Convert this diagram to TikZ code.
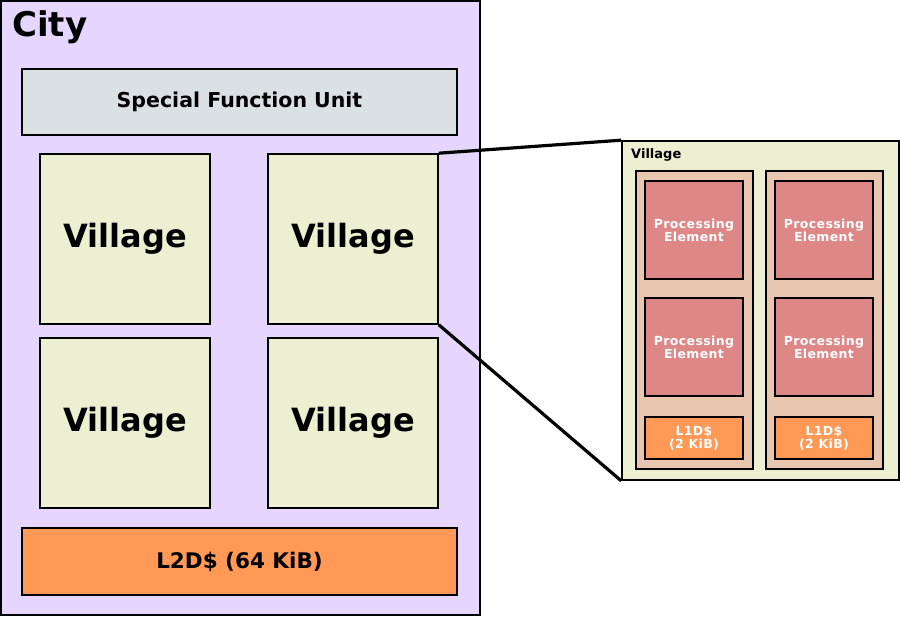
\documentclass[tikz,border=0pt]{standalone}
\usepackage{fontspec}
\setmainfont{DejaVu Sans}
\newfontfamily\spacedfont[LetterSpace=3]{DejaVu Sans}
\usetikzlibrary{positioning}

\definecolor{cityfill}{HTML}{E5D5FF}
\definecolor{sfufill}{HTML}{DAE1E2}
\definecolor{villfill}{HTML}{ECEFD1}
\definecolor{colfill}{HTML}{E9C6AF}
\definecolor{pefill}{HTML}{DE8787}
\definecolor{cachefill}{HTML}{FF9955}

\tikzset{
  box/.style={draw=black, line width=1.6pt, inner sep=0pt, align=center, font=\bfseries},
  city/.style={box, fill=cityfill, line width=2pt, minimum width=479pt, minimum height=614pt},
  sfu/.style={box, fill=sfufill, minimum width=435pt, minimum height=66pt, font=\bfseries\fontsize{20.5}{24}\selectfont},
  village/.style={box, fill=villfill, minimum width=170pt, minimum height=170pt, font=\bfseries\fontsize{32}{38}\selectfont},
  ltwo/.style={box, fill=cachefill, minimum width=435pt, minimum height=67pt, font=\bfseries\fontsize{21.5}{25}\selectfont},
  detail/.style={box, fill=villfill, minimum width=277pt, minimum height=339pt},
  column/.style={box, fill=colfill, minimum width=117pt, minimum height=298pt},
  pe/.style={box, fill=pefill, text=white, minimum width=98pt, minimum height=98pt, font=\spacedfont\bfseries\fontsize{12.5}{12}\selectfont},
  lone/.style={box, fill=cachefill, text=white, minimum width=98pt, minimum height=42pt, font=\spacedfont\bfseries\fontsize{12.5}{12.5}\selectfont},
  zoomline/.style={line width=3.2pt}
}

\begin{document}
\begin{tikzpicture}[x=1pt,y=-1pt]
\useasboundingbox (0,0) rectangle (900,617);

% city
\node[city] (city) at (240.5,308) {};
\node[anchor=base west, inner sep=0pt, font=\bfseries\fontsize{34}{40}\selectfont] (citylabel) at (12,37) {City};
\node[sfu] (sfu) at (239.5,102) {Special Function Unit};
\node[village] (v1) at (125,239) {Village};
\node[village] (v2) at (353,239) {Village};
\node[village] (v3) at (125,423) {Village};
\node[village] (v4) at (353,423) {Village};
\node[ltwo] (l2) at (239.5,561.5) {L2D\$ (64 KiB)};

% zoomed village
\node[detail] (vd) at (760.5,310.5) {};
\node[anchor=base west, inner sep=0pt, font=\bfseries\fontsize{13}{15}\selectfont] (vdlabel) at (631,159) {Village};
\draw[zoomline] (v2.north east) -- (vd.north west);
\draw[zoomline] (v2.south east) -- (vd.south west);

\node[column] (colA) at (694.5,320) {};
\node[column] (colB) at (824.5,320) {};
\node[pe] (peA1) at (694,230) {Processing\\Element};
\node[pe] (peA2) at (694,347) {Processing\\Element};
\node[lone] (l1A) at (694,438) {L1D\$\\(2 KiB)};
\node[pe] (peB1) at (824,230) {Processing\\Element};
\node[pe] (peB2) at (824,347) {Processing\\Element};
\node[lone] (l1B) at (824,438) {L1D\$\\(2 KiB)};
\end{tikzpicture}
\end{document}
